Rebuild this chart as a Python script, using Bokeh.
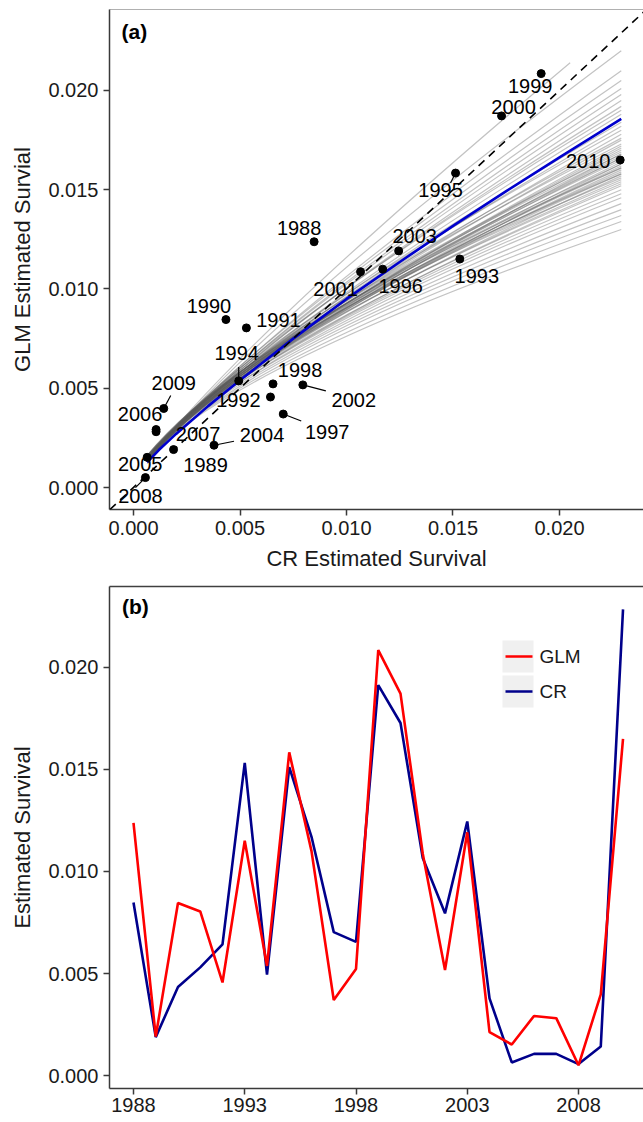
from bokeh.plotting import figure
from bokeh.layouts import column
from bokeh.models import (Range1d, FixedTicker, NumeralTickFormatter, LinearAxis,
                          Label, ColumnDataSource, Slope, BoxAnnotation, Arrow)
from bokeh.core.properties import value
from bokeh.embed import file_html
from bokeh.resources import INLINE

# ---------------- data ----------------
years = [1988, 1989, 1990, 1991, 1992, 1993, 1994, 1995, 1996, 1997, 1998, 1999,
         2000, 2001, 2002, 2003, 2004, 2005, 2006, 2007, 2008, 2009, 2010]
cr_surv = [0.00848, 0.00188, 0.00434, 0.00530, 0.00643, 0.01532, 0.00494, 0.01512,
           0.01170, 0.00703, 0.00655, 0.01914, 0.01728, 0.01066, 0.00795, 0.01245,
           0.00378, 0.00064, 0.00106, 0.00106, 0.00056, 0.00142, 0.02285]
glm_surv = [0.01238, 0.00191, 0.00846, 0.00804, 0.00456, 0.01151, 0.00537, 0.01584,
            0.01100, 0.00370, 0.00522, 0.02085, 0.01872, 0.01087, 0.00517, 0.01192,
            0.00213, 0.00152, 0.00292, 0.00281, 0.00050, 0.00398, 0.01650]
series_names = ["GLM", "CR"]

# fitted GLM-vs-CR curve
fit_x = [0.00064, 0.0012, 0.002, 0.0035, 0.005, 0.0075, 0.010, 0.0125, 0.015, 0.0175, 0.020, 0.0229]
fit_y = [0.00127, 0.00190, 0.00270, 0.00410, 0.00540, 0.00750, 0.00950, 0.01136, 0.01318, 0.01493, 0.01663, 0.01857]

# bootstrap curves (grey): start, control and end of each curve
gray_x_start = 0.00064
gray_x_ctrl = 0.005
gray_y_start = [0.00120, 0.00130, 0.00130, 0.00140, 0.00130, 0.00140, 0.00140, 0.00130, 0.00150, 0.00140,
                0.00140, 0.00130, 0.00150, 0.00130, 0.00140, 0.00150, 0.00130, 0.00140, 0.00160, 0.00140,
                0.00130, 0.00150, 0.00140, 0.00160, 0.00130, 0.00140, 0.00150, 0.00140, 0.00130, 0.00160,
                0.00140, 0.00150, 0.00140, 0.00130, 0.00150, 0.00140, 0.00160, 0.00140, 0.00130, 0.00150,
                0.00130, 0.00150, 0.00140, 0.00150,
                0.00150, 0.00140, 0.00160, 0.00150, 0.00140, 0.00150, 0.00150]
gray_y_ctrl = [0.00761, 0.00743, 0.00730, 0.00733, 0.00730, 0.00727, 0.00712, 0.00729, 0.00737, 0.00707,
               0.00716, 0.00709, 0.00739, 0.00696, 0.00736, 0.00706, 0.00754, 0.00701, 0.00708, 0.00753,
               0.00698, 0.00725, 0.00716, 0.00743, 0.00708, 0.00746, 0.00715, 0.00773, 0.00718, 0.00735,
               0.00735, 0.00705, 0.00763, 0.00730, 0.00735, 0.00702, 0.00707, 0.00710, 0.00748, 0.00690,
               0.00738, 0.00770, 0.00703, 0.00746,
               0.00704, 0.00697, 0.00684, 0.00679, 0.00674, 0.00649, 0.00636]
gray_y_end = [0.0220, 0.0214, 0.0210, 0.0205, 0.0201, 0.0198, 0.0195, 0.0192, 0.0190, 0.0188,
              0.0184, 0.0182, 0.0180, 0.0178, 0.0176, 0.0175, 0.0173, 0.0172, 0.0170, 0.0169,
              0.0168, 0.0167, 0.0166, 0.0165, 0.0164, 0.0163, 0.0162, 0.0161, 0.0160, 0.0159,
              0.0158, 0.0157, 0.0156, 0.0155, 0.0154, 0.0153, 0.0152, 0.0150, 0.0166, 0.0163,
              0.0161, 0.0158, 0.0171, 0.0168,
              0.0148, 0.0146, 0.0143, 0.0140, 0.0137, 0.0134, 0.0130]
gray_x_end = [0.0229, 0.0205] + [0.0229] * 49

ticks_a = [0.000, 0.005, 0.010, 0.015, 0.020]
ticks_year = [1988, 1993, 1998, 2003, 2008]

# ---------------- styling / layout (not data) ----------------
FONT = "Liberation Sans"
AX_COL = "#3a3a3a"
TXT_COL = "#1a1a1a"
COL_GLM = "#FF0000"
COL_CR = "#00008B"

# label offsets (px, right / down) for each year label in panel (a)
label_offsets = {1988: (-15, -14), 1989: (32, 15), 1990: (-17, -14), 1991: (32, -8),
                 1992: (-32, 3), 1993: (17, 17), 1994: (-2, -28), 1995: (-15, 17),
                 1996: (18, 17), 1997: (44, 18), 1998: (27, -14), 1999: (-11, 12),
                 2000: (12, -9), 2001: (-25, 17), 2002: (51, 15), 2003: (16, -15),
                 2004: (48, -10), 2005: (-7, 7), 2006: (-16, -16), 2007: (42, 2),
                 2008: (-5, 18), 2009: (10, -25), 2010: (-32, 1)}
# leader segments (px, from point toward its label)
seg_offsets = {1994: (0, -14), 1995: (-5, 10), 1997: (18, 7), 2002: (23, 6),
               2004: (20, -4), 2008: (-10, 10), 2009: (7, -13)}

W = 643
LEFT = 109
A_H, A_TOP, A_BOTTOM = 575, 9, 66
ax_range = (-0.001127, 0.023944)
ay_range = (-0.001108, 0.02408)
frame_w = W - LEFT
frame_h_a = A_H - A_TOP - A_BOTTOM
px_x = frame_w / (ax_range[1] - ax_range[0])
px_y = frame_h_a / (ay_range[1] - ay_range[0])


def style_axis(ax, ticks, fmt=None, standoff=5, title_size="22px"):
    ax.ticker = FixedTicker(ticks=ticks)
    if fmt is not None:
        ax.formatter = fmt
    ax.axis_line_color = AX_COL
    ax.axis_line_width = 1.5
    ax.major_tick_line_color = AX_COL
    ax.major_tick_line_width = 1.5
    ax.major_tick_out = 6
    ax.major_tick_in = 0
    ax.minor_tick_line_color = None
    ax.major_label_text_font = FONT
    ax.major_label_text_font_size = "20px"
    ax.major_label_text_color = TXT_COL
    ax.major_label_standoff = standoff
    ax.axis_label_text_font = FONT
    ax.axis_label_text_font_size = title_size
    ax.axis_label_text_font_style = "normal"
    ax.axis_label_text_color = TXT_COL


def top_border(p, color, width):
    t = LinearAxis(ticker=FixedTicker(ticks=[]), major_label_text_font_size="0px",
                   major_tick_out=0, major_tick_in=0, minor_tick_out=0, minor_tick_in=0,
                   major_label_standoff=0, axis_line_color=color, axis_line_width=width)
    p.add_layout(t, "above")


# ---------------- panel (a) ----------------
pa = figure(width=W, height=A_H, output_backend="svg", toolbar_location=None,
            x_range=Range1d(*ax_range), y_range=Range1d(*ay_range),
            min_border_left=LEFT, min_border_right=0, min_border_top=A_TOP,
            min_border_bottom=A_BOTTOM)
pa.grid.grid_line_color = None
pa.outline_line_color = None
style_axis(pa.xaxis[0], ticks_a, NumeralTickFormatter(format="0.000"))
style_axis(pa.yaxis[0], ticks_a, NumeralTickFormatter(format="0.000"))
pa.xaxis[0].axis_label = "CR Estimated Survival"
pa.yaxis[0].axis_label = "GLM Estimated Survial"
pa.xaxis[0].axis_label_standoff = 8
pa.yaxis[0].axis_label_standoff = 10
top_border(pa, "#b0b0b0", 1)

n = len(gray_y_end)
gsrc = ColumnDataSource(dict(x0=[gray_x_start] * n, y0=gray_y_start,
                             cx=[gray_x_ctrl] * n, cy=gray_y_ctrl,
                             x1=gray_x_end, y1=gray_y_end))
pa.quadratic(x0="x0", y0="y0", x1="x1", y1="y1", cx="cx", cy="cy", source=gsrc,
             line_color="#5a5a5a", line_alpha=0.36, line_width=1.2)
pa.line(fit_x, fit_y, line_color="#0000CD", line_width=2.6)

# leader segments
sx0, sy0, sx1, sy1 = [], [], [], []
for yr, (dx, dy) in seg_offsets.items():
    i = years.index(yr)
    sx0.append(cr_surv[i]); sy0.append(glm_surv[i])
    sx1.append(cr_surv[i] + dx / px_x); sy1.append(glm_surv[i] - dy / px_y)
pa.segment(x0=sx0, y0=sy0, x1=sx1, y1=sy1, line_color="black", line_width=1.2)

pa.scatter(cr_surv, glm_surv, size=8, fill_color="black", line_color="black")

lsrc = ColumnDataSource(dict(x=cr_surv, y=glm_surv, t=[str(y) for y in years],
                             dx=[label_offsets[y][0] for y in years],
                             dy=[label_offsets[y][1] for y in years]))
pa.text(x="x", y="y", text="t", x_offset="dx", y_offset="dy", source=lsrc,
        text_font=value(FONT), text_font_size="20px", text_color="black",
        text_align="center", text_baseline="middle")

pa.add_layout(Slope(gradient=1, y_intercept=0, line_color="black",
                    line_dash="8 6", line_width=1.6))
pa.add_layout(Label(x=12, y=frame_h_a - 10.5, x_units="screen", y_units="screen",
                    text="(a)", text_font=FONT, text_font_size="21px",
                    text_font_style="bold", text_color="black",
                    text_baseline="top", text_align="left"))

# ---------------- panel (b) ----------------
B_H = 1122 - 2 - A_H
B_TOP, B_BOTTOM = 586 - A_H, 32
frame_h_b = B_H - B_TOP - B_BOTTOM
pb = figure(width=W, height=B_H, output_backend="svg", toolbar_location=None,
            x_range=Range1d(1986.922, 2010.92), y_range=Range1d(-0.000637, 0.02397),
            min_border_left=LEFT, min_border_right=0, min_border_top=B_TOP,
            min_border_bottom=B_BOTTOM)
pb.grid.grid_line_color = None
pb.outline_line_color = None
style_axis(pb.xaxis[0], ticks_year, standoff=3)
style_axis(pb.yaxis[0], ticks_a, NumeralTickFormatter(format="0.000"))
pb.yaxis[0].axis_label = "Estimated Survival"
pb.yaxis[0].axis_label_standoff = 10
top_border(pb, "#404040", 1.5)

pb.line(years, cr_surv, line_color=COL_CR, line_width=2.6)
pb.line(years, glm_surv, line_color=COL_GLM, line_width=2.6)

# legend (key box, key line and label; screen px from the frame's bottom-left)
for name, color, (kb, kt) in zip(series_names, [COL_GLM, COL_CR], [(416, 448), (381, 413)]):
    mid = (kb + kt) / 2
    pb.add_layout(BoxAnnotation(left=393, right=424, bottom=kb, top=kt,
                                left_units="screen", right_units="screen",
                                bottom_units="screen", top_units="screen",
                                fill_color="#f0f0f0", fill_alpha=1.0,
                                line_color=None, level="underlay"))
    pb.add_layout(Arrow(x_start=396, y_start=mid, x_end=423, y_end=mid,
                        start_units="screen", end_units="screen",
                        start=None, end=None, line_color=color, line_width=2.6))
    pb.add_layout(Label(x=430, y=mid, x_units="screen", y_units="screen", text=name,
                        text_font=FONT, text_font_size="19px", text_color=TXT_COL,
                        text_baseline="middle", text_align="left"))

pb.add_layout(Label(x=12.5, y=frame_h_b - 8.5, x_units="screen", y_units="screen",
                    text="(b)", text_font=FONT, text_font_size="21px",
                    text_font_style="bold", text_color="black",
                    text_baseline="top", text_align="left"))

layout = column(pa, pb, spacing=0)
open("out.html", "w").write(file_html(layout, INLINE, "plot"))
